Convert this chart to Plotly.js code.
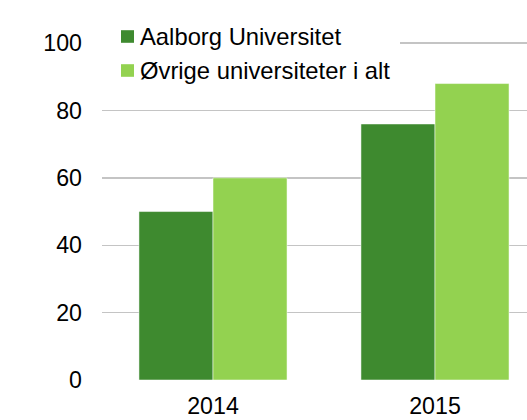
<!DOCTYPE html>
<html>
<head>
<meta charset="utf-8">
<script src="https://cdn.plot.ly/plotly-3.0.1.min.js"></script>
<style>html,body{margin:0;padding:0;background:#fff;}#chart{width:527px;height:420px;}</style>
</head>
<body>
<div id="chart"></div>
<script>
const categories = ['2014', '2015'];
const aauValues = [50, 76];
const otherValues = [60, 88];
const seriesNames = ['Aalborg Universitet', 'Øvrige universiteter i alt'];
const seriesColors = ['#3E8A2F', '#93D250'];
const yTicks = [0, 20, 40, 60, 80, 100];

const FAM = 'Liberation Sans, Arial, sans-serif';
const tickFont = {family: FAM, size: 23.2, color: '#000'};
const legFont = {family: FAM, size: 23.8, color: '#000'};

const traces = [
  {type: 'bar', x: categories, y: aauValues, name: seriesNames[0],
   marker: {color: seriesColors[0], line: {color: 'rgba(255,255,255,0.5)', width: 1}}},
  {type: 'bar', x: categories, y: otherValues, name: seriesNames[1],
   marker: {color: seriesColors[1], line: {color: 'rgba(255,255,255,0.5)', width: 1}}}
];

// plot area in pixels: x 102..527, y 0..380
const PL = 102, PW = 425, PH = 380;
const px = v => (v - PL) / PW;
const py = v => 1 - v / PH;

const shapes = [
  {type: 'rect', xref: 'paper', yref: 'paper', x0: px(98), x1: px(400), y0: py(88), y1: py(22),
   fillcolor: '#fff', line: {width: 0}, layer: 'above'}
];
const annotations = [];
const rowCenters = [36.5, 70.5];
seriesNames.forEach((name, i) => {
  const c = rowCenters[i];
  shapes.push({type: 'rect', xref: 'paper', yref: 'paper', x0: px(121), x1: px(134),
    y0: py(c + 6.3), y1: py(c - 6.3), fillcolor: seriesColors[i], line: {width: 0}, layer: 'above'});
  annotations.push({xref: 'paper', yref: 'paper', x: px(138), y: py(c), xanchor: 'left', yanchor: 'middle',
    text: name, showarrow: false, font: legFont});
});

const layout = {
  width: 527, height: 420,
  margin: {l: 102, r: 0, t: 0, b: 40, pad: 0},
  paper_bgcolor: '#fff', plot_bgcolor: '#fff',
  font: tickFont,
  barmode: 'group', bargap: 0.333, bargroupgap: 0,
  showlegend: false,
  shapes: shapes,
  annotations: annotations,
  xaxis: {type: 'category', range: [-0.5, 1.4144], showgrid: false, zeroline: false,
          showline: false, ticks: '', tickfont: tickFont, ticklabelstandoff: 10, fixedrange: true},
  yaxis: {range: [0, 112.8], tickvals: yTicks, ticktext: yTicks.map(String),
          showgrid: true, gridcolor: '#C4C4C4', gridwidth: 1.5,
          zeroline: true, zerolinecolor: '#fff', zerolinewidth: 2,
          showline: false, ticks: '', tickfont: tickFont, ticklabelstandoff: 19, fixedrange: true}
};

Plotly.newPlot('chart', traces, layout, {displayModeBar: false, staticPlot: true});
</script>
</body>
</html>
